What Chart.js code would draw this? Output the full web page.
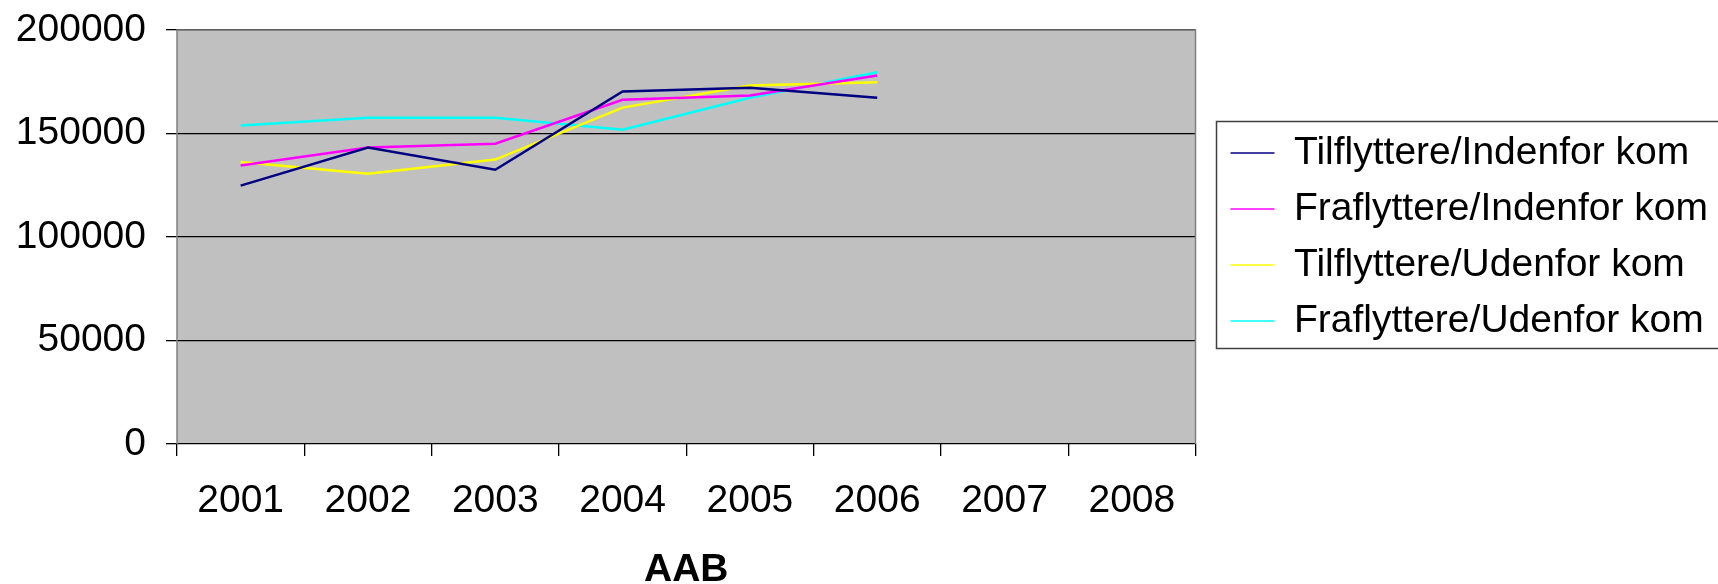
<!DOCTYPE html>
<html>
<head>
<meta charset="utf-8">
<script src="https://cdn.jsdelivr.net/npm/chart.js@4"></script>
<style>
    html, body { margin: 0; padding: 0; background: #ffffff; overflow: hidden; }
    canvas { display: block; }
</style>
</head>
<body>
<canvas id="migrationChart" width="1718" height="584"></canvas>
<script>
// Data
const years = ['2001', '2002', '2003', '2004', '2005', '2006', '2007', '2008'];
const tilflytIndenfor = [124800, 143200, 132500, 170300, 172100, 167300, null, null];
const fraflytIndenfor = [134500, 143200, 145100, 166300, 168400, 178000, null, null];
const tilflytUdenfor = [136200, 130600, 137400, 162500, 173200, 174800, null, null];
const fraflytUdenfor = [153900, 157600, 157600, 151800, 167300, 179600, null, null];
const seriesNames = ['Tilflyttere/Indenfor kom', 'Fraflyttere/Indenfor kom', 'Tilflyttere/Udenfor kom', 'Fraflyttere/Udenfor kom'];
const axisTitle = 'AAB';
const yTicks = [0, 50000, 100000, 150000, 200000];

const canvas = document.getElementById('migrationChart');
const fontFamily = '"Liberation Sans", Arial, sans-serif';
Chart.defaults.font.family = fontFamily;
Chart.defaults.color = '#000000';

// Grey plot area with border, legend frame
const plotFrame = {
    id: 'plotFrame',
    beforeDraw(chart) {
        const { ctx, chartArea } = chart;
        ctx.save();
        ctx.fillStyle = '#ffffff';
        ctx.fillRect(0, 0, chart.width, chart.height);
        ctx.fillStyle = '#c0c0c0';
        ctx.fillRect(chartArea.left, chartArea.top, chartArea.right - chartArea.left, chartArea.bottom - chartArea.top);
        ctx.restore();
    },
    beforeDatasetsDraw(chart) {
        const { ctx, chartArea } = chart;
        ctx.save();
        ctx.strokeStyle = '#808080';
        ctx.lineWidth = 1.5;
        ctx.beginPath();
        ctx.moveTo(chartArea.left, chartArea.bottom);
        ctx.lineTo(chartArea.left, chartArea.top);
        ctx.lineTo(chartArea.right, chartArea.top);
        ctx.lineTo(chartArea.right, chartArea.bottom);
        ctx.stroke();
        ctx.restore();
    },
    afterDraw(chart) {
        const boxes = chart.legend && chart.legend.legendHitBoxes;
        if (!boxes || !boxes.length) return;
        const first = boxes[0];
        const last = boxes[boxes.length - 1];
        const ctx = chart.ctx;
        ctx.save();
        ctx.strokeStyle = '#404040';
        ctx.lineWidth = 1.5;
        ctx.strokeRect(first.left - 14, first.top - 12, chart.width, last.top + last.height + 20 - first.top);
        ctx.restore();
    }
};

new Chart(canvas, {
    type: 'line',
    data: {
        labels: years,
        datasets: [
            { label: seriesNames[0], data: tilflytIndenfor, borderColor: '#000080' },
            { label: seriesNames[1], data: fraflytIndenfor, borderColor: '#ff00ff' },
            { label: seriesNames[2], data: tilflytUdenfor, borderColor: '#ffff00' },
            { label: seriesNames[3], data: fraflytUdenfor, borderColor: '#00ffff' },
        ].map(ds => Object.assign(ds, {
            backgroundColor: ds.borderColor,
            borderWidth: 2.5,
            pointRadius: 0,
            pointHoverRadius: 0,
            pointBorderWidth: 1.5,
            tension: 0,
            fill: false,
            spanGaps: false,
        })),
    },
    options: {
        responsive: false,
        animation: false,
        layout: {
            padding: { left: 16, top: 30, right: 0, bottom: 0 },
        },
        plugins: {
            tooltip: { enabled: false },
            legend: {
                display: true,
                position: 'right',
                fullSize: false,
                maxWidth: 640,
                labels: {
                    usePointStyle: true,
                    pointStyle: 'line',
                    pointStyleWidth: 44,
                    boxHeight: 2,
                    padding: 17,
                    color: '#000000',
                    font: { size: 39, family: fontFamily },
                },
            },
        },
        scales: {
            x: {
                type: 'category',
                offset: true,
                afterFit: scale => { scale.height = 140; },
                grid: {
                    offset: true,
                    drawOnChartArea: false,
                    drawTicks: true,
                    tickLength: 12,
                    color: '#000000',
                    lineWidth: 1.3,
                },
                border: { display: false },
                ticks: {
                    padding: 26,
                    color: '#000000',
                    maxRotation: 0,
                    autoSkip: false,
                    font: { size: 39, lineHeight: 1 },
                },
                title: {
                    display: true,
                    text: axisTitle,
                    color: '#000000',
                    padding: { top: 30, bottom: 0 },
                    font: { size: 39, weight: 'bold', lineHeight: 0.7 },
                },
            },
            y: {
                min: 0,
                max: 200000,
                afterFit: scale => { scale.width = 161; },
                afterBuildTicks: scale => {
                    scale.ticks = yTicks.map(v => ({ value: v }));
                },
                grid: {
                    color: '#000000',
                    lineWidth: 1.3,
                    drawTicks: true,
                    tickLength: 11,
                },
                border: { display: false },
                ticks: {
                    padding: 20,
                    color: '#000000',
                    font: { size: 39, lineHeight: 0.5 },
                    callback: value => String(value),
                },
            },
            gap: {
                type: 'linear',
                position: 'right',
                display: true,
                grid: { display: false },
                border: { display: false },
                ticks: { display: false },
                afterFit: scale => { scale.width = 18; },
            },
        },
    },
    plugins: [plotFrame],
});
</script>
</body>
</html>
